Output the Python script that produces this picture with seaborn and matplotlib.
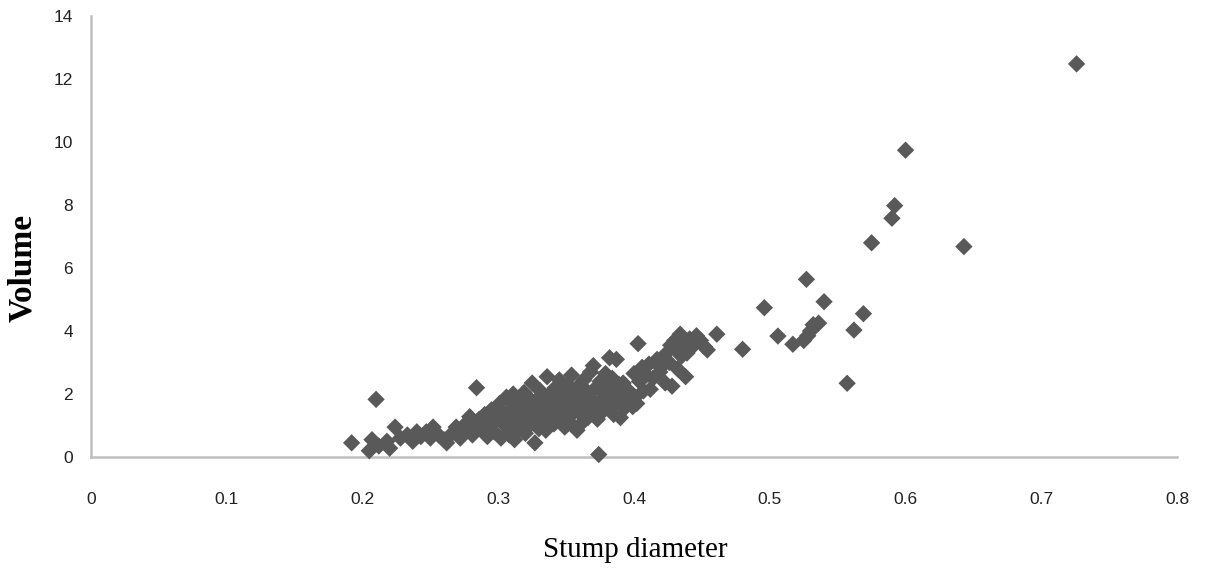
import matplotlib

matplotlib.use("Agg")
import matplotlib.pyplot as plt
import pandas as pd
import seaborn as sns


# values
stump_diameter = [
    # sparse lower-left tail
    0.192, 0.205, 0.207, 0.210, 0.212, 0.218, 0.220, 0.224, 0.228, 0.233,
    0.237, 0.240, 0.243, 0.247, 0.250, 0.252, 0.256, 0.260, 0.262, 0.266,
    0.269, 0.272, 0.275, 0.277, 0.279, 0.281, 0.283, 0.284, 0.286, 0.288,
    0.290, 0.292,
    # dense band
    0.293, 0.295, 0.297, 0.299, 0.301, 0.302, 0.304, 0.305, 0.306, 0.308,
    0.309, 0.310, 0.311, 0.312, 0.313, 0.314, 0.315,
    0.316, 0.317, 0.318, 0.319, 0.320, 0.321, 0.322, 0.323, 0.324, 0.325,
    0.326, 0.327, 0.328, 0.329, 0.330, 0.331, 0.332, 0.333, 0.334, 0.335,
    0.336, 0.337, 0.338, 0.339,
    0.340, 0.341, 0.342, 0.343, 0.344, 0.345, 0.346, 0.347, 0.348, 0.349,
    0.350, 0.351, 0.352, 0.353, 0.354, 0.355, 0.356, 0.357, 0.358, 0.359,
    0.360, 0.361, 0.362, 0.363, 0.364, 0.365, 0.366, 0.367, 0.368, 0.369,
    0.370,
    0.371, 0.372, 0.373, 0.374, 0.375, 0.376, 0.377, 0.378, 0.379, 0.380,
    0.381, 0.382, 0.383, 0.384, 0.385, 0.386, 0.387, 0.388, 0.389, 0.390,
    0.391, 0.392, 0.393, 0.395, 0.397, 0.399,
    0.400, 0.401, 0.402, 0.403, 0.404, 0.406, 0.407, 0.409, 0.411, 0.412,
    0.414, 0.416, 0.417, 0.419, 0.421, 0.423, 0.424, 0.426, 0.427, 0.428,
    0.430, 0.431, 0.432, 0.434, 0.435, 0.436, 0.438, 0.439, 0.441, 0.443,
    0.446, 0.449, 0.452, 0.454, 0.461, 0.480,
    # upper-right scatter
    0.496, 0.506, 0.517, 0.525, 0.527, 0.528, 0.530, 0.532, 0.536, 0.540,
    0.557, 0.562, 0.569, 0.575, 0.590, 0.592, 0.600, 0.643, 0.726,
]
volume = [
    0.45, 0.20, 0.55, 1.83, 0.35, 0.50, 0.28, 0.95, 0.60, 0.70,
    0.50, 0.80, 0.65, 0.80, 0.60, 0.95, 0.70, 0.55, 0.45, 0.75,
    0.95, 0.60, 0.85, 1.10, 1.28, 0.70, 0.95, 2.20, 1.20, 0.90,
    1.35, 0.65,
    1.00, 1.50, 0.80, 1.20, 1.70, 0.60, 1.35, 1.00, 1.90, 0.70,
    1.50, 1.15, 2.00, 0.55, 1.70, 1.30, 0.90,
    1.80, 1.10, 1.55, 2.05, 0.75, 1.40, 1.90, 1.00, 1.65, 2.35,
    1.25, 0.45, 1.80, 1.45, 0.90, 2.10, 1.60, 1.20, 1.85, 0.85,
    2.55, 1.50, 2.00, 1.30,
    1.70, 1.05, 2.20, 1.45, 1.90, 2.45, 1.20, 1.65, 2.05, 0.95,
    1.55, 2.30, 1.80, 1.30, 2.60, 1.00, 2.00, 1.60, 0.85, 2.25,
    1.40, 1.85, 1.10, 2.45, 1.65, 2.10, 1.25, 1.90, 2.70, 1.50,
    2.90,
    1.70, 2.20, 1.20, 0.08, 2.40, 1.80, 1.45, 2.00, 2.65, 1.60,
    2.25, 3.15, 1.90, 2.50, 1.35, 2.05, 3.10, 1.75, 2.30, 1.25,
    2.00, 2.35, 1.55, 2.15, 1.80, 1.60,
    2.65, 1.90, 1.70, 3.60, 2.40, 2.85, 2.10, 2.60, 2.95, 2.15,
    2.50, 3.00, 3.10, 2.70, 2.90, 2.35, 3.30, 3.00, 3.55, 2.25,
    3.70, 3.40, 2.80, 3.90, 3.20, 3.60, 2.55, 3.30, 3.75, 3.50,
    3.85, 3.70, 3.50, 3.40, 3.90, 3.42,
    4.74, 3.84, 3.58, 3.70, 5.64, 3.85, 4.00, 4.20, 4.25, 4.93,
    2.34, 4.03, 4.55, 6.80, 7.58, 7.98, 9.74, 6.68, 12.48,
]

x_ticks = [0, 0.1, 0.2, 0.3, 0.4, 0.5, 0.6, 0.7, 0.8]
x_tick_labels = ["0", "0.1", "0.2", "0.3", "0.4", "0.5", "0.6", "0.7", "0.8"]
y_ticks = [0, 2, 4, 6, 8, 10, 12, 14]

df = pd.DataFrame({"Stump diameter": stump_diameter, "Volume": volume})

sns.set_theme(style="white")
plt.rcParams["font.family"] = ["Liberation Sans", "DejaVu Sans"]

fig = plt.figure(figsize=(12.05, 5.72), dpi=100)
ax = fig.add_axes([0.0755, 0.201, 0.9013, 0.771])

sns.scatterplot(
    data=df,
    x="Stump diameter",
    y="Volume",
    marker="D",
    s=78,
    color="#595959",
    edgecolor="none",
    linewidth=0,
    ax=ax,
    clip_on=False,
    zorder=3,
)

ax.set_xlim(0, 0.8)
ax.set_ylim(0, 14)
ax.set_xticks(x_ticks)
ax.set_xticklabels(x_tick_labels)
ax.set_yticks(y_ticks)

for side in ["top", "right"]:
    ax.spines[side].set_visible(False)
for side in ["left", "bottom"]:
    ax.spines[side].set_color("#bfbfbf")
    ax.spines[side].set_linewidth(1.8)

ax.tick_params(axis="both", which="major", direction="out", length=4,
               width=1.2, color="#a6a6a6", labelsize=12.5, labelcolor="#222222")
ax.tick_params(axis="x", pad=21)
ax.tick_params(axis="y", pad=9)

ax.set_xlabel("")
ax.set_ylabel("")
fig.text(0.527, 0.039, "Stump diameter", ha="center", va="center",
         fontsize=21, family="Liberation Serif", color="black")
fig.text(0.019, 0.531, "Volume", ha="center", va="center", rotation=90,
         fontsize=24, fontweight="bold", family="Liberation Serif", color="black")

fig.savefig("out.png", dpi=100, facecolor="white")
